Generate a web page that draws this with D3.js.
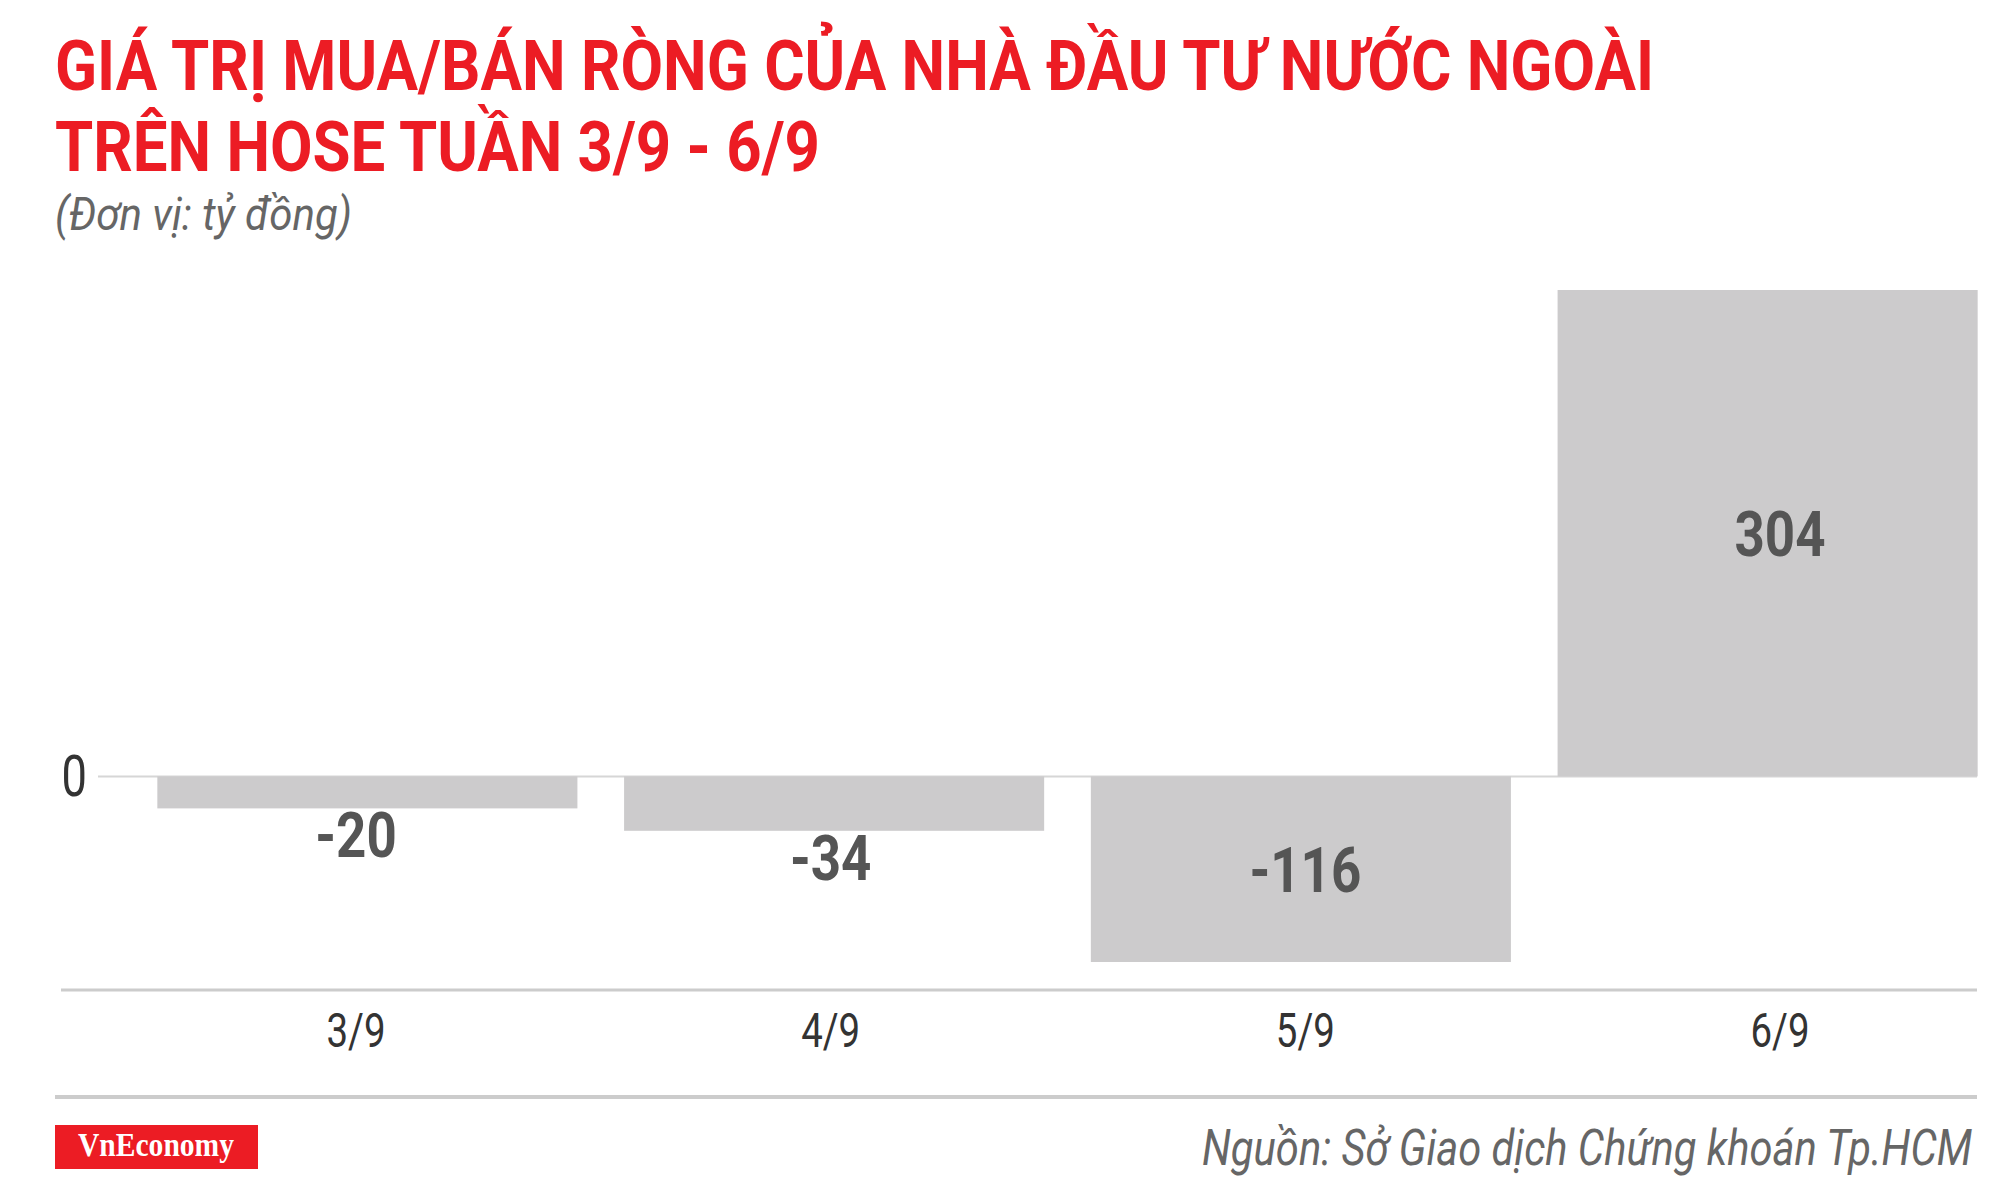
<!DOCTYPE html>
<html>
<head>
<meta charset="utf-8">
<script src="https://cdn.jsdelivr.net/npm/d3@7/dist/d3.min.js"></script>
<style>
  html, body { margin: 0; padding: 0; background: #fff; }
  svg { display: block; }
</style>
</head>
<body>
<svg id="chart" width="2000" height="1187"></svg>
<script>
const categories = ["3/9", "4/9", "5/9", "6/9"];
const values = [-20, -34, -116, 304];
const valueLabels = ["-20", "-34", "-116", "304"];
const zeroTickLabel = ["0"];
const titleLines = ["GIÁ TRỊ MUA/BÁN RÒNG CỦA NHÀ ĐẦU TƯ NƯỚC NGOÀI", "TRÊN HOSE TUẦN 3/9 - 6/9"];
const subtitle = "(Đơn vị: tỷ đồng)";
const sourceText = "Nguồn: Sở Giao dịch Chứng khoán Tp.HCM";
const brand = "VnEconomy";

const svg = d3.select("#chart");
const RED = "#ec1c24";
const SANS = "Roboto, 'Noto Sans', sans-serif";
const SERIF = "'Liberation Serif', 'DejaVu Serif', serif";

function txt(sel) { return sel.append("text").style("font-family", SANS); }

// Title
txt(svg).attr("x", 55).attr("y", 90)
  .attr("font-size", 70).attr("font-weight", 700).attr("fill", RED)
  .attr("textLength", 1599).attr("lengthAdjust", "spacingAndGlyphs")
  .text(titleLines[0]);
txt(svg).attr("x", 55).attr("y", 171)
  .attr("font-size", 70).attr("font-weight", 700).attr("fill", RED)
  .attr("textLength", 765).attr("lengthAdjust", "spacingAndGlyphs")
  .text(titleLines[1]);
txt(svg).attr("x", 55).attr("y", 230)
  .attr("font-size", 46).attr("font-style", "italic").attr("fill", "#666")
  .attr("textLength", 297).attr("lengthAdjust", "spacingAndGlyphs")
  .text(subtitle);

// Scales
const x = d3.scaleBand().domain(categories).range([134, 2001])
  .paddingInner(0.1).paddingOuter(0.05);
const xLabel = d3.scalePoint().domain(categories).range([356, 1780]);
const y = d3.scaleLinear().domain([-116, 304]).range([962, 290]);

// zero line
svg.append("line").attr("x1", 98).attr("x2", 1977)
  .attr("y1", y(0)).attr("y2", y(0))
  .attr("stroke", "#d6d6d6").attr("stroke-width", 2);

// Zero tick label
txt(svg.append("g").attr("transform", `translate(87, ${y(0) + 20}) scale(0.78,1)`))
  .attr("text-anchor", "end").attr("font-size", 58)
  .attr("fill", "#333").text(zeroTickLabel[0]);

// Bars
const data = categories.map((c, i) => ({ c, v: values[i], label: valueLabels[i] }));
svg.append("g").selectAll("rect").data(data).join("rect")
  .attr("x", d => x(d.c))
  .attr("width", x.bandwidth())
  .attr("y", d => Math.min(y(d.v), y(0)))
  .attr("height", d => Math.abs(y(d.v) - y(0)))
  .attr("fill", "#cccbcc");

// Value labels
svg.append("g").selectAll("g").data(data).join("g")
  .attr("transform", d => {
    const cx = xLabel(d.c);
    const h = Math.abs(y(d.v) - y(0));
    let by;
    if (h > 100) by = (y(d.v) + y(0)) / 2 + 23;
    else by = y(d.v) + 49;
    return `translate(${cx}, ${by}) scale(0.84,1)`;
  })
  .append("text").style("font-family", SANS).attr("text-anchor", "middle")
  .attr("font-size", 63).attr("font-weight", 700).attr("fill", "#555")
  .text(d => d.label);

// Bottom axis
const axisY = 990;
svg.append("line").attr("x1", 61).attr("x2", 1977)
  .attr("y1", axisY).attr("y2", axisY)
  .attr("stroke", "#cccccc").attr("stroke-width", 3);

svg.append("g").selectAll("g").data(categories).join("g")
  .attr("transform", d => `translate(${xLabel(d)}, 1047) scale(0.8,1)`)
  .append("text").style("font-family", SANS).attr("text-anchor", "middle").attr("font-size", 48)
  .attr("fill", "#333").text(d => d);

// Footer separator
svg.append("line").attr("x1", 55).attr("x2", 1977)
  .attr("y1", 1097).attr("y2", 1097)
  .attr("stroke", "#cccccc").attr("stroke-width", 4);

// Brand logo
svg.append("rect").attr("x", 55).attr("y", 1125).attr("width", 203).attr("height", 44)
  .attr("fill", RED);
svg.append("text").attr("x", 78).attr("y", 1156)
  .style("font-family", SERIF)
  .attr("font-size", 34).attr("font-weight", 700).attr("fill", "#fff")
  .attr("textLength", 156).attr("lengthAdjust", "spacingAndGlyphs")
  .text(brand);

// Source
txt(svg).attr("x", 1972).attr("y", 1165).attr("text-anchor", "end")
  .attr("font-size", 49).attr("font-style", "italic").attr("fill", "#666")
  .attr("textLength", 770).attr("lengthAdjust", "spacingAndGlyphs")
  .text(sourceText);
</script>
</body>
</html>
